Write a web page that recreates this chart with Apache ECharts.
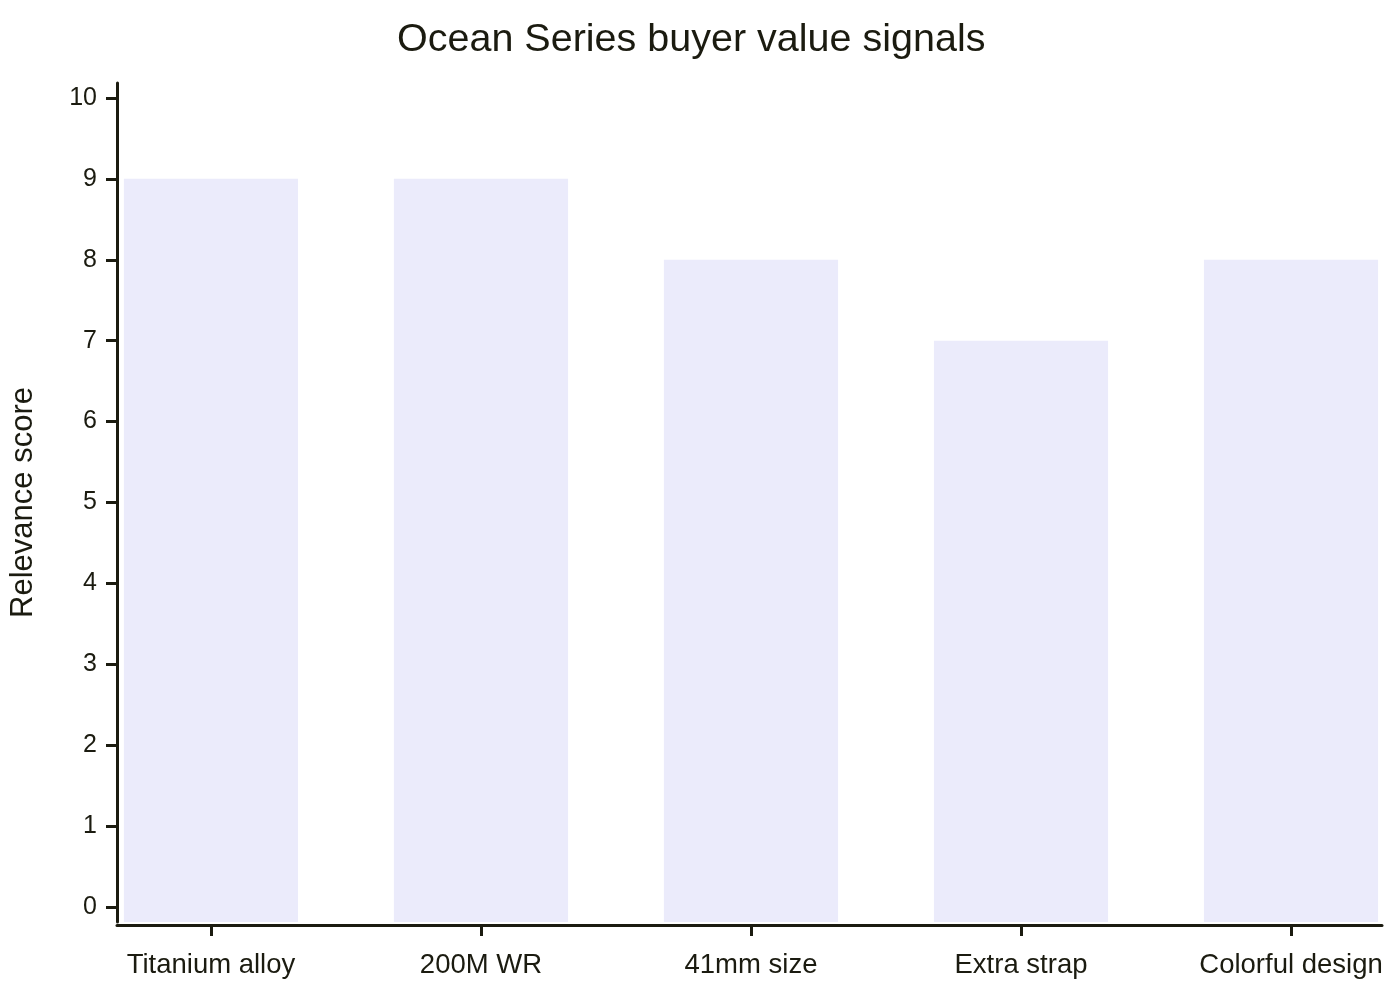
<!DOCTYPE html>
<html><head><meta charset="utf-8">
<script src="https://cdn.jsdelivr.net/npm/echarts@6/dist/echarts.min.js"></script>
<style>html,body{margin:0;padding:0;background:#fff}#c{width:1400px;height:1000px}</style>
</head><body><div id="c"></div>
<script>
const categories = ["Titanium alloy", "200M WR", "41mm size", "Extra strap", "Colorful design"];
const scores = [9, 9, 8, 7, 8];
const yTicks = [0, 1, 2, 3, 4, 5, 6, 7, 8, 9, 10];

const Y_MIN = -0.185, Y_MAX = 10.185;
const X_MIN = -0.348, X_MAX = 4.337;
const INK = '#1b1b10';
const FONT = '"Liberation Sans", Arial, sans-serif';

const chart = echarts.init(document.getElementById('c'), null, {renderer: 'canvas'});
chart.setOption({
  animation: false,
  backgroundColor: '#ffffff',
  title: {
    text: 'Ocean Series buyer value signals',
    left: 392, top: 15,
    textStyle: {fontFamily: FONT, fontSize: 39.5, fontWeight: 'normal', color: INK}
  },
  grid: {left: 116, right: 18, top: 83, bottom: 78, containLabel: false},
  xAxis: {
    type: 'value', min: X_MIN, max: X_MAX, offset: 3,
    splitLine: {show: false},
    axisLine: {show: true, onZero: false, lineStyle: {color: INK, width: 3}},
    axisTick: {show: true, customValues: categories.map((c, i) => i), length: 11, lineStyle: {color: INK, width: 3}},
    axisLabel: {
      customValues: categories.map((c, i) => i),
      formatter: v => categories[Math.round(v)] ?? '',
      margin: 26, fontFamily: FONT, fontSize: 27.5, color: INK
    }
  },
  yAxis: {
    type: 'value', min: Y_MIN, max: Y_MAX, offset: 0,
    name: 'Relevance score', nameLocation: 'middle', nameGap: 78,
    nameTextStyle: {fontFamily: FONT, fontSize: 31, color: INK},
    splitLine: {show: false},
    axisLine: {show: true, onZero: false, lineStyle: {color: INK, width: 3}},
    axisTick: {show: true, customValues: yTicks, length: 11, lineStyle: {color: INK, width: 3}},
    axisLabel: {customValues: yTicks, margin: 20, fontFamily: FONT, fontSize: 25, color: INK}
  },
  series: [{
    type: 'custom',
    data: scores.map((s, i) => [i, s]),
    encode: {x: 0, y: 1},
    clip: false,
    renderItem: function (params, api) {
      const x = api.value(0), v = api.value(1);
      const top = api.coord([x, v]);
      const bottom = api.coord([x, Y_MIN]);
      const w = api.size([0.645, 0])[0];
      return {
        type: 'rect',
        shape: {x: top[0] - w / 2, y: top[1], width: w, height: bottom[1] - top[1]},
        style: {fill: '#ebebfb'}
      };
    }
  }]
});
</script></body></html>
